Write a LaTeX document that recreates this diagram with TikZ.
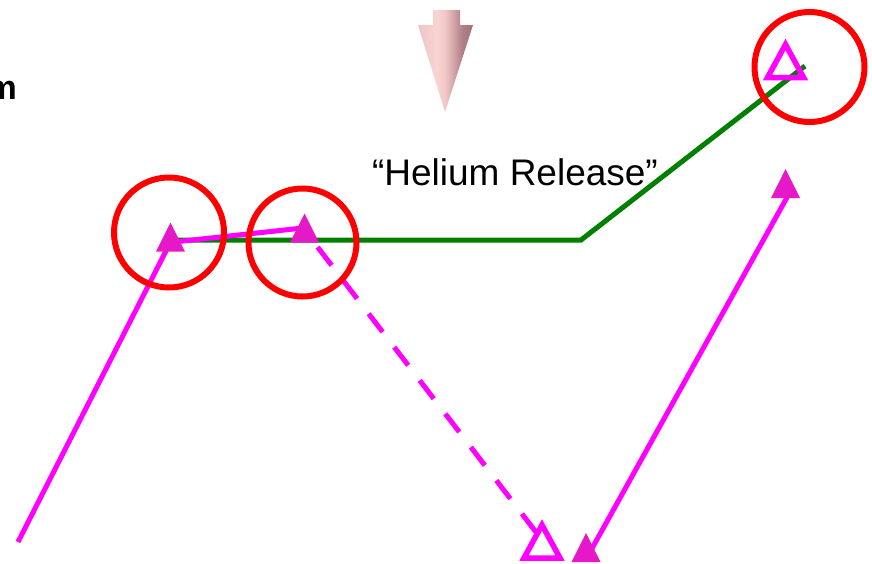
\documentclass[tikz,border=0pt]{standalone}
\usepackage{fontspec}
\setmainfont{Liberation Sans}
\definecolor{mag}{RGB}{255,0,255}
\definecolor{trifill}{RGB}{230,25,200}
\definecolor{grn}{RGB}{0,128,0}
\definecolor{rd}{RGB}{255,0,0}
\pgfdeclarehorizontalshading{arrowsh}{100bp}{%
  rgb(0bp)=(0.86,0.70,0.71);
  rgb(25bp)=(0.93,0.77,0.77);
  rgb(42bp)=(0.98,0.83,0.83);
  rgb(50bp)=(0.94,0.78,0.78);
  rgb(65bp)=(0.70,0.50,0.53);
  rgb(100bp)=(0.45,0.30,0.33)}
\tikzset{
  magline/.style={draw=mag, line width=5pt},
  greenline/.style={draw=grn, line width=5pt},
  ring/.style={circle, draw=rd, line width=6pt, inner sep=0pt, minimum size=#1},
  ftri/.pic={\fill[trifill] (-14.5,0) -- (14.5,0) -- (0,-29) -- cycle;},
  otri/.pic={\draw[draw=mag, line width=5.5pt, miter limit=10] (-18,0) -- (18,0) -- (0,-33) -- cycle;},
}
\begin{document}
\begin{tikzpicture}[x=1pt,y=-1pt]
\useasboundingbox (0,0) rectangle (872,563);
% coordinates
\coordinate (s0) at (18,542);
\coordinate (p1) at (170,243);
\coordinate (p1b) at (174,242);
\coordinate (p2) at (303,228);
\coordinate (p3) at (542,540);
\coordinate (g0) at (168,240);
\coordinate (g1) at (581,240);
\coordinate (g2) at (805,66);
\coordinate (r0) at (590,552);
\coordinate (r1) at (790,192);
% text
\node[anchor=base east, inner sep=0pt, font=\fontsize{34}{40}\selectfont\bfseries] (mtxt) at (17,99) {m};
\node[anchor=base, inner sep=0pt, font=\fontsize{37}{44}\selectfont] (helium) at (515,185) {“Helium Release”};
% pink arrow
\shade[shading=arrowsh]
  (433,10) -- (460,10) -- (460,25) -- (473,25) -- (445,112) -- (418,25) -- (433,25) -- cycle;
% green line
\draw[greenline] (g0) -- (g1) -- (g2);
% magenta lines
\draw[magline] (s0) -- (p1);
\draw[magline] (p1b) -- (p2);
\draw[magline, dash pattern=on 23pt off 19pt, dash phase=18pt] (p2) -- (p3);
\draw[magline] (r0) -- (r1);
% circles
\node[ring=110pt] (c1) at (169,232.5) {};
\node[ring=108pt] (c2) at (302.5,242.5) {};
\node[ring=110pt] (c3) at (809.5,67) {};
% triangles
\pic at (170.5,251.5) {ftri};
\pic at (304.5,242.5) {ftri};
\pic at (586,562) {ftri};
\pic at (785.5,198) {ftri};
\pic at (542,558) {otri};
\pic at (785.5,77.5) {otri};
\end{tikzpicture}
\end{document}
